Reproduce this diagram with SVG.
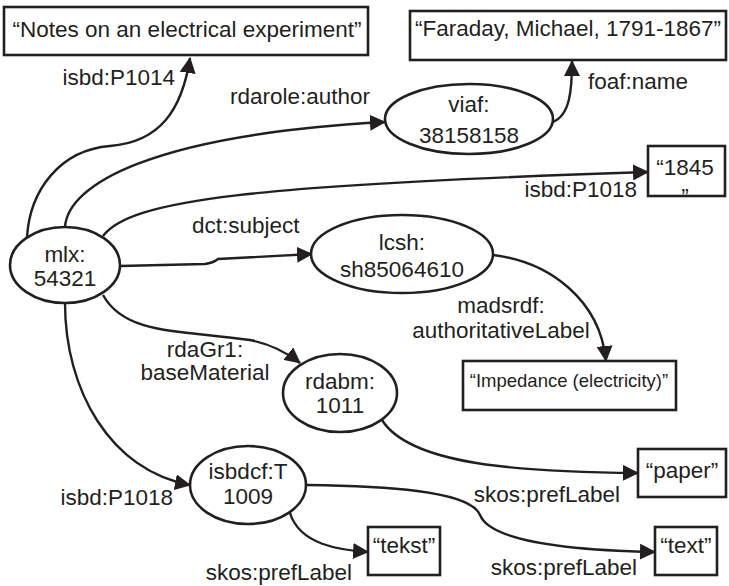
<svg xmlns="http://www.w3.org/2000/svg" width="729" height="586" viewBox="0 0 729 586">
<defs>
<marker id="arr" viewBox="0 0 16 16" refX="15" refY="8" markerWidth="16" markerHeight="16" markerUnits="userSpaceOnUse" orient="auto">
<path d="M0,0 L16,8 L0,16 z" fill="#231f20"/>
</marker>
<style>
text{font-family:"Liberation Sans",Arial,sans-serif;font-size:22.5px;fill:#231f20}
.c{text-anchor:middle}
.e{text-anchor:end}
.node ellipse,.node rect{fill:#fff;stroke:#231f20;stroke-width:2.6}
#edges path{fill:none;stroke:#231f20;stroke-width:2.4;marker-end:url(#arr)}
.sm{font-size:18.5px}
</style>
</defs>
<rect width="729" height="586" fill="#fff"/>
<g id="edges">
<path d="M27,237 C30,190 60,150 110,146 C160,142 182,110 190,58"/>
<path d="M65,227 C68,185 150,135 385,122"/>
<path d="M103,236 C130,200 250,185 648,172"/>
<path d="M120,266 L205,264 Q213,263 218,259 L312,254"/>
<path d="M493,255 C550,262 600,300 606,361"/>
<path d="M103,295 C125,335 180,330 250,340 C275,345 290,355 300,363"/>
<path d="M382,420 C410,465 520,472 638,473"/>
<path d="M307,485 C380,486 470,490 480,515 C490,540 560,550 655,552"/>
<path d="M290,513 C300,545 340,550 368,552"/>
<path d="M65,303 C65,390 110,470 190,485"/>
<path d="M553,122 C570,115 572,90 572,61"/>
</g>
<g id="labels">
<text class="e" x="175" y="85">isbd:P1014</text>
<text x="230" y="104">rdarole:author</text>
<text x="588" y="89">foaf:name</text>
<text class="e" x="637" y="197">isbd:P1018</text>
<text x="192" y="233">dct:subject</text>
<text class="c" x="501" y="313">madsrdf:</text>
<text class="c" x="501" y="338">authoritativeLabel</text>
<text class="c" x="205" y="357">rdaGr1:</text>
<text class="c" x="205" y="380">baseMaterial</text>
<text class="e" x="620" y="502">skos:prefLabel</text>
<text class="e" x="173" y="505">isbd:P1018</text>
<text class="e" x="352" y="580">skos:prefLabel</text>
<text class="e" x="637" y="575">skos:prefLabel</text>
</g>
<g id="n-notes" class="node"><rect x="4" y="7" width="364" height="48"/><text class="c" x="187" y="37">“Notes on an electrical experiment”</text></g>
<g id="n-faraday" class="node"><rect x="410" y="11" width="316" height="49"/><text class="c" x="568" y="36">“Faraday, Michael, 1791-1867”</text></g>
<g id="n-viaf" class="node"><ellipse cx="469" cy="119" rx="84" ry="35"/><text class="c" x="469" y="112">viaf:</text><text class="c" x="469" y="143">38158158</text></g>
<g id="n-1845" class="node"><rect x="648" y="146" width="77" height="50"/><text class="c" x="685" y="175">“1845</text><text class="c" x="685" y="204">”</text></g>
<g id="n-mlx" class="node"><ellipse cx="65" cy="265" rx="55" ry="38"/><text class="c" x="65" y="262">mlx:</text><text class="c" x="65" y="286">54321</text></g>
<g id="n-lcsh" class="node"><ellipse cx="402" cy="254" rx="91" ry="39"/><text class="c" x="402" y="250">lcsh:</text><text class="c" x="402" y="277">sh85064610</text></g>
<g id="n-impedance" class="node"><rect x="463" y="361" width="213" height="49"/><text class="c sm" x="569" y="387">“Impedance (electricity)”</text></g>
<g id="n-rdabm" class="node"><ellipse cx="340" cy="393" rx="57" ry="39"/><text class="c" x="340" y="389">rdabm:</text><text class="c" x="340" y="413">1011</text></g>
<g id="n-paper" class="node"><rect x="638" y="449" width="88" height="48"/><text class="c" x="682" y="478">“paper”</text></g>
<g id="n-isbdcf" class="node"><ellipse cx="248" cy="485" rx="58" ry="39"/><text class="c" x="248" y="479">isbdcf:T</text><text class="c" x="248" y="504">1009</text></g>
<g id="n-tekst" class="node"><rect x="368" y="527" width="72" height="48"/><text class="c" x="404" y="553">“tekst”</text></g>
<g id="n-text" class="node"><rect x="655" y="527" width="62" height="48"/><text class="c" x="686" y="553">“text”</text></g>
</svg>
